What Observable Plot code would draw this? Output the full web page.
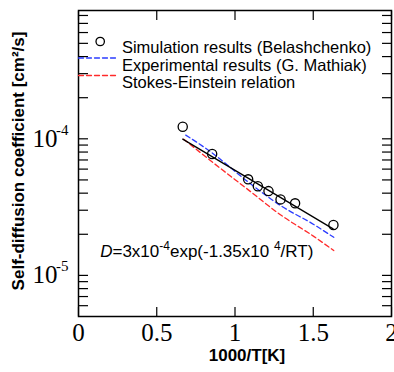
<!DOCTYPE html>
<html><head><meta charset="utf-8">
<script src="https://cdn.jsdelivr.net/npm/d3@7"></script>
<script src="https://cdn.jsdelivr.net/npm/@observablehq/plot@0.6"></script>
<style>body{margin:0;background:#fff}</style>
</head><body><div id="chart"></div>
<script>
// Simulation results (Belashchenko)
const simX = [0.666, 0.854, 1.084, 1.146, 1.214, 1.291, 1.384, 1.629];
const simD = [1.225e-4, 7.75e-5, 5.05e-5, 4.5e-5, 4.14e-5, 3.6e-5, 3.37e-5, 2.34e-5];
// Fit line D=3x10^-4 exp(-1.35x10^4/RT)
const fitX = [0.666, 1.627];
const fitD = [9.95e-5, 2.19e-5];
// Experimental results (G. Mathiak)
const expX = [0.685, 0.853, 1.077, 1.29, 1.503, 1.631];
const expD = [1.065e-4, 7.9e-5, 4.9e-5, 3.25e-5, 2.36e-5, 1.9e-5];
// Stokes-Einstein relation
const seX = [0.672, 0.863, 1.077, 1.29, 1.503, 1.631];
const seD = [9.93e-5, 6.65e-5, 4.3e-5, 2.78e-5, 1.93e-5, 1.52e-5];

const xTicks = [0, 0.5, 1, 1.5, 2];
const xTickLabels = ["0", "0.5", "1", "1.5", "2"];
const yMajorTicks = [1e-5, 1e-4];
const yMantissa = ["10", "10"];
const yExponents = ["-5", "-4"];
const yAllTicks = [6e-6, 7e-6, 8e-6, 9e-6, 1e-5, 2e-5, 3e-5, 4e-5, 5e-5, 6e-5, 7e-5, 8e-5, 9e-5,
  1e-4, 2e-4, 3e-4, 4e-4, 5e-4, 6e-4, 7e-4, 8e-4];

const legendLabels = ["Simulation results (Belashchenko)", "Experimental results (G. Mathiak)", "Stokes-Einstein relation"];
const xLabel = "1000/T[K]";
const yLabel = "Self-diffusion coefficient [cm²/s]";
const annotation = "D=3x10-4exp(-1.35x10 4/RT)";

const blue = "#2b3cff", red = "#ff2a2a";
const serif = "'Liberation Serif', 'Times New Roman', serif";
const sans = "'Liberation Sans', Arial, sans-serif";

const sim = simX.map((x, i) => ({x, y: simD[i]}));
const fit = fitX.map((x, i) => ({x, y: fitD[i]}));
const exp = expX.map((x, i) => ({x, y: expD[i]}));
const se = seX.map((x, i) => ({x, y: seD[i]}));

const lineShape = {draw(ctx, l) { ctx.moveTo(0, 0); ctx.lineTo(0, -l); }};
const none = () => "";
const xFmt = d => xTickLabels[xTicks.indexOf(d)];
const yMant = d => yMantissa[yMajorTicks.indexOf(d)] ?? "";
const yExp = d => yExponents[yMajorTicks.indexOf(d)] ?? "";

const chart = Plot.plot({
  width: 394, height: 372,
  marginLeft: 78, marginRight: 3, marginTop: 10, marginBottom: 56,
  x: {domain: [0, 2]},
  y: {type: "log", domain: [5e-6, 8.7e-4]},
  style: {fontFamily: sans, background: "#fff", overflow: "visible"},
  marks: [
    // inward ticks
    Plot.axisX({anchor: "bottom", ticks: xTicks, tickSize: 9, dy: -9, tickFormat: none, label: null, strokeWidth: 1.2}),
    Plot.axisX({anchor: "top", ticks: xTicks, tickSize: 9, dy: 9, tickFormat: none, label: null, strokeWidth: 1.2}),
    Plot.axisY({anchor: "left", ticks: yAllTicks, tickSize: 10, dx: 10, tickFormat: none, label: null, strokeWidth: 1.2}),
    Plot.axisY({anchor: "right", ticks: yAllTicks, tickSize: 10, dx: -10, tickFormat: none, label: null, strokeWidth: 1.2}),
    // tick labels
    Plot.axisX({anchor: "bottom", ticks: xTicks, tickSize: 0, tickPadding: 7, tickFormat: xFmt,
      fontSize: 25, fontFamily: serif, label: null}),
    Plot.axisY({anchor: "left", ticks: yMajorTicks, tickSize: 0, tickPadding: 21, tickFormat: yMant,
      fontSize: 25, fontFamily: serif, label: null}),
    Plot.axisY({anchor: "left", ticks: yMajorTicks, tickSize: 0, tickPadding: 10, dy: -9, tickFormat: yExp,
      fontSize: 15, fontFamily: serif, label: null}),
    Plot.frame({stroke: "black", strokeWidth: 1.5}),
    // data
    Plot.line(se, {x: "x", y: "y", stroke: red, strokeWidth: 1.3, strokeDasharray: "5,3", curve: "monotone-x"}),
    Plot.line(exp, {x: "x", y: "y", stroke: blue, strokeWidth: 1.3, strokeDasharray: "5,3", curve: "monotone-x"}),
    Plot.line(fit, {x: "x", y: "y", stroke: "black", strokeWidth: 1.3}),
    Plot.dot(sim, {x: "x", y: "y", r: 4.6, stroke: "black", strokeWidth: 1.3, fill: "none"}),
    // legend
    Plot.dot([0], {frameAnchor: "top-left", dx: 21.7, dy: 31, r: 4.2, stroke: "black", strokeWidth: 1.3, fill: "none"}),
    Plot.vector([0], {frameAnchor: "top-left", dx: 0, dy: 47.5, rotate: 90, length: 39, anchor: "start", shape: lineShape,
      stroke: blue, strokeWidth: 1.3, strokeDasharray: "5,3"}),
    Plot.vector([0], {frameAnchor: "top-left", dx: 0, dy: 65, rotate: 90, length: 39, anchor: "start", shape: lineShape,
      stroke: red, strokeWidth: 1.3, strokeDasharray: "5,3"}),
    Plot.text([legendLabels[0]], {frameAnchor: "top-left", text: d => d, dx: 43.4, dy: 31, fontSize: 16.5, textAnchor: "start"}),
    Plot.text([legendLabels[1]], {frameAnchor: "top-left", text: d => d, dx: 43.4, dy: 48.5, fontSize: 16.5, textAnchor: "start"}),
    Plot.text([legendLabels[2]], {frameAnchor: "top-left", text: d => d, dx: 43.4, dy: 66, fontSize: 16.5, textAnchor: "start"}),
    // annotation
    Plot.text([annotation], {frameAnchor: "top-left", text: d => d, dx: 21.7, dy: 234, fontSize: 17, textAnchor: "start"}),
    // axis titles
    Plot.text([xLabel], {frameAnchor: "bottom", text: d => d, dx: 12, dy: 44, fontSize: 17, fontWeight: "bold", textAnchor: "middle"}),
    Plot.text([yLabel], {frameAnchor: "left", text: d => d, dx: -60, dy: -2.5, rotate: -90, fontSize: 17, fontWeight: "bold", textAnchor: "middle"})
  ]
});

// rich text for the annotation: italic D and superscripts
chart.querySelectorAll("text").forEach(t => {
  if (t.textContent === annotation) {
    const segs = [["D", "i"], ["=3x10", ""], ["-4", "s"], ["exp(-1.35x10 ", ""], ["4", "s"], ["/RT)", ""]];
    t.textContent = "";
    let raised = false;
    for (const [s, k] of segs) {
      const ts = document.createElementNS("http://www.w3.org/2000/svg", "tspan");
      ts.textContent = s;
      if (k === "i") ts.setAttribute("font-style", "italic");
      if (k === "s") { ts.setAttribute("font-size", "12"); ts.setAttribute("dy", "-7"); raised = true; }
      else if (raised) { ts.setAttribute("dy", "7"); raised = false; }
      t.appendChild(ts);
    }
  }
});
document.getElementById("chart").appendChild(chart);
</script></body></html>
